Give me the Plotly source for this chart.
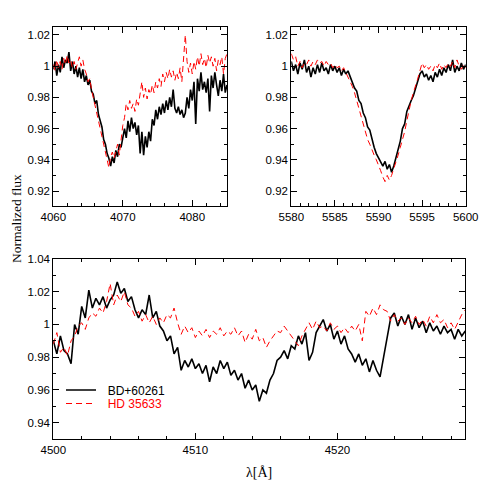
import numpy as np
import plotly.graph_objs as go

# He I 4068 region
hei_bd = [0.998, 1.003, 0.994, 1.001, 0.996, 1.006, 0.999, 1.004, 1.002, 1.009,
          0.997, 1.003, 0.995, 1.000, 0.993, 0.999, 0.992, 0.998, 0.990, 0.994,
          0.988, 0.991, 0.984, 0.982, 0.976, 0.978, 0.969, 0.964, 0.961, 0.953,
          0.950, 0.944, 0.941, 0.936, 0.942, 0.938, 0.946, 0.942, 0.950, 0.948,
          0.955, 0.960, 0.954, 0.965, 0.958, 0.967, 0.960, 0.964, 0.956, 0.962,
          0.944, 0.958, 0.943, 0.955, 0.948, 0.958, 0.952, 0.966, 0.962, 0.972,
          0.966, 0.974, 0.969, 0.976, 0.970, 0.978, 0.972, 0.980, 0.974, 0.985,
          0.973, 0.970, 0.974, 0.969, 0.972, 0.967, 0.970, 0.980, 0.973, 0.985,
          0.978, 0.990, 0.963, 0.992, 0.984, 0.996, 0.985, 0.990, 0.983, 0.992,
          0.971, 0.994, 0.986, 0.996, 0.988, 0.981, 0.991, 0.984, 0.995, 0.983,
          0.988]
hei_hd = [1.001, 0.997, 1.004, 0.999, 1.003, 0.998, 1.005, 1.001, 1.007, 1.002,
          1.004, 0.999, 1.003, 0.998, 1.002, 1.006, 1.000, 1.004, 0.998, 0.995,
          0.990, 0.992, 0.985, 0.980, 0.977, 0.972, 0.966, 0.960, 0.957, 0.950,
          0.946, 0.941, 0.935, 0.942, 0.945, 0.941, 0.946, 0.950, 0.943, 0.953,
          0.962, 0.967, 0.976, 0.972, 0.978, 0.973, 0.976, 0.971, 0.979, 0.975,
          0.983, 0.990, 0.980, 0.986, 0.979, 0.985, 0.982, 0.988, 0.983, 0.990,
          0.986, 0.992, 0.987, 0.995, 0.990, 0.996, 0.992, 0.998, 0.993, 0.997,
          0.991, 0.996, 0.992, 0.999, 0.990, 1.006, 1.020, 1.003, 0.996, 1.002,
          0.995, 1.003, 0.998, 1.006, 1.000, 1.008, 1.001, 1.005, 0.999, 1.007,
          1.002, 1.006, 1.000, 1.005, 0.997, 1.004, 1.001, 1.006, 0.995, 1.005,
          1.008]

# 5590 region
c5590_bd = [1.003, 0.997, 1.001, 0.995, 1.002, 0.998, 1.004, 0.996, 1.000, 0.993,
            0.999, 0.995, 1.001, 0.996, 1.002, 0.997, 0.999, 0.995, 1.001, 0.997,
            1.000, 0.996, 0.999, 0.994, 0.998, 0.995, 0.997, 0.993, 0.990, 0.986,
            0.984, 0.978, 0.976, 0.970, 0.967, 0.961, 0.959, 0.953, 0.948, 0.944,
            0.941, 0.938, 0.936, 0.939, 0.934, 0.937, 0.932, 0.936, 0.941, 0.947,
            0.952, 0.960, 0.963, 0.971, 0.975, 0.978, 0.981, 0.986, 0.990, 0.995,
            0.997, 0.993, 0.995, 0.991, 0.994, 0.990, 0.996, 0.993, 0.998, 0.994,
            0.999, 0.996, 1.001, 0.997, 1.004, 0.996, 1.000, 0.997, 1.002, 0.998,
            1.001]
c5590_hd = [1.008, 1.004, 1.006, 1.000, 1.003, 0.999, 1.002, 1.001, 1.004, 1.000,
            1.003, 1.001, 1.004, 1.002, 1.003, 1.000, 1.003, 1.001, 1.002, 0.999,
            1.001, 0.999, 1.000, 0.997, 0.999, 0.996, 0.994, 0.990, 0.987, 0.983,
            0.978, 0.972, 0.968, 0.962, 0.958, 0.953, 0.950, 0.946, 0.943, 0.940,
            0.937, 0.933, 0.929, 0.926, 0.930, 0.927, 0.930, 0.934, 0.938, 0.943,
            0.948, 0.953, 0.958, 0.965, 0.972, 0.978, 0.983, 0.987, 0.992, 0.997,
            1.002, 0.999, 1.001, 0.998, 1.000, 0.997, 1.001, 0.999, 1.002, 0.998,
            1.001, 0.999, 1.002, 1.000, 1.003, 0.999, 1.004, 1.000, 0.998, 1.001,
            0.999]

# 4500-4529 band
band_bd = [0.990, 0.982, 0.993, 0.984, 0.982, 0.976, 1.000, 0.994, 1.011, 1.004,
           1.021, 1.010, 1.016, 1.012, 1.017, 1.010, 1.015, 1.018, 1.026, 1.019,
           1.022, 1.014, 1.017, 1.009, 1.004, 1.009, 1.006, 1.018, 1.004, 1.008,
           0.999, 0.996, 0.990, 0.993, 0.982, 0.986, 0.972, 0.978, 0.974, 0.979,
           0.973, 0.976, 0.970, 0.975, 0.965, 0.974, 0.970, 0.978, 0.973, 0.977,
           0.969, 0.972, 0.966, 0.970, 0.961, 0.966, 0.960, 0.963, 0.953, 0.960,
           0.958, 0.966, 0.970, 0.978, 0.980, 0.984, 0.979, 0.987, 0.985, 0.993,
           0.988, 0.995, 0.978, 0.983, 0.995, 0.999, 1.003, 0.996, 1.000, 0.991,
           0.996, 0.988, 0.993, 0.985, 0.982, 0.977, 0.982, 0.975, 0.979, 0.971,
           0.978, 0.972, 0.968, 0.980, 0.993, 1.004, 1.007, 0.999, 1.005, 1.000,
           1.006, 0.997, 1.004, 0.998, 1.002, 0.995, 1.001, 0.996, 0.999, 0.994,
           0.999, 0.995, 0.997, 0.991, 0.997, 0.993, 0.996]
band_hd = [0.988, 0.995, 0.983, 0.986, 0.981, 0.990, 0.993, 0.999, 1.001, 0.997,
           1.004, 1.007, 1.005, 1.010, 1.007, 1.014, 1.025, 1.012, 1.018, 1.014,
           1.020, 1.012, 1.010, 1.005, 1.008, 1.002, 1.006, 1.001, 1.005, 1.000,
           1.004, 1.001, 1.006, 1.004, 1.010, 1.001, 0.994, 0.999, 0.995, 0.998,
           0.992, 0.996, 0.993, 0.997, 0.992, 0.996, 0.994, 0.998, 0.993, 0.996,
           0.994, 0.998, 0.993, 0.996, 0.989, 0.994, 0.991, 0.997, 0.990, 0.992,
           0.986, 0.990, 0.993, 0.996, 0.995, 0.999, 0.996, 0.993, 0.990, 0.987,
           0.993, 0.997, 1.001, 0.997, 1.002, 0.998, 0.999, 0.996, 1.001, 0.997,
           0.999, 0.995, 0.998, 0.995, 0.999, 0.996, 1.000, 0.990, 1.008, 1.005,
           1.010, 1.006, 1.012, 1.009, 1.008, 1.002, 1.006, 1.002, 1.004, 1.000,
           1.004, 1.001, 1.005, 1.000, 1.003, 0.999, 1.005, 1.001, 1.006, 1.001,
           1.003, 0.998, 1.001, 0.997, 1.002, 1.006, 1.009]

names = ['BD+60261', 'HD 35633']

# page body keeps its 8px margin, so the figure is 483 square and placed from there
W = 483
OFF = 8

def px(v):
	return (v - OFF) / W

def py(v):
	return 1 - (v - OFF) / W

tickfont = dict(family='Liberation Sans, Arial', size=11.5, color='black')

def ax(domain, rng, dtick, minor, anchor):
	return dict(domain=domain, range=rng, dtick=dtick, anchor=anchor, automargin=False,
				showline=True, linecolor='black', linewidth=1, mirror='allticks',
				ticks='inside', ticklen=6, tickcolor='black', showgrid=False,
				zeroline=False, tickfont=tickfont,
				minor=dict(dtick=minor, ticks='inside', ticklen=3, tickcolor='black', showgrid=False))

fig = go.Figure()

panels = [
	('x', 'y', 4060, 4085, hei_bd, hei_hd),
	('x2', 'y2', 5580, 5600, c5590_bd, c5590_hd),
	('x3', 'y3', 4500, 4529, band_bd, band_hd),
]
for xa, ya, lo, hi, bd, hd in panels:
	show = xa == 'x3'
	fig.add_trace(go.Scatter(x=np.linspace(lo, hi, len(bd)), y=bd, xaxis=xa, yaxis=ya,
							 mode='lines', line=dict(color='black', width=1.6),
							 name='\u00a0\u00a0' + names[0], showlegend=show, legend='legend'))
	fig.add_trace(go.Scatter(x=np.linspace(lo, hi, len(hd)), y=hd, xaxis=xa, yaxis=ya,
							 mode='lines', line=dict(color='red', width=1, dash='6px,4px'),
							 name='\u00a0\u00a0<span style="color:red">' + names[1] + '</span>',
							 showlegend=show, legend='legend2'))

legfont = dict(family='Liberation Sans, Arial', size=12, color='black')
top = [py(206), py(27)]
fig.update_layout(
	template='none',
	width=W, height=W,
	margin=dict(l=0, r=0, t=0, b=0, pad=0, autoexpand=False),
	paper_bgcolor='white', plot_bgcolor='white',
	xaxis=ax([px(53.3), px(227)], [4060, 4085], 10, 2, 'y'),
	yaxis=ax(top, [0.9104, 1.0251], 0.02, 0.01, 'x'),
	xaxis2=ax([px(291.3), px(465.7)], [5580, 5600], 5, 1, 'y2'),
	yaxis2=ax(top, [0.9104, 1.0251], 0.02, 0.01, 'x2'),
	xaxis3=ax([px(53.3), px(465.3)], [4500, 4529], 10, 2, 'y3'),
	yaxis3=ax([py(439), py(259)], [0.93, 1.04], 0.02, 0.01, 'x3'),
	showlegend=True,
	legend=dict(x=px(61), y=py(390), xanchor='left', yanchor='middle',
				bgcolor='rgba(0,0,0,0)', itemwidth=30, font=legfont),
	legend2=dict(x=px(61), y=py(403.5), xanchor='left', yanchor='middle',
				 bgcolor='rgba(0,0,0,0)', itemwidth=30, font=legfont),
	annotations=[
		dict(text='Normalized flux', x=px(16), y=py(219), xref='paper', yref='paper',
			 xanchor='center', yanchor='middle', textangle=-90, showarrow=False,
			 font=dict(family='Liberation Serif, Times New Roman', size=13.5, color='black')),
		dict(text='\u03bb[\u00c5]', x=px(259), y=py(472), xref='paper', yref='paper',
			 xanchor='center', yanchor='middle', showarrow=False,
			 font=dict(family='Liberation Serif, Times New Roman', size=14, color='black')),
	],
)

fig.write_html("out.html")
